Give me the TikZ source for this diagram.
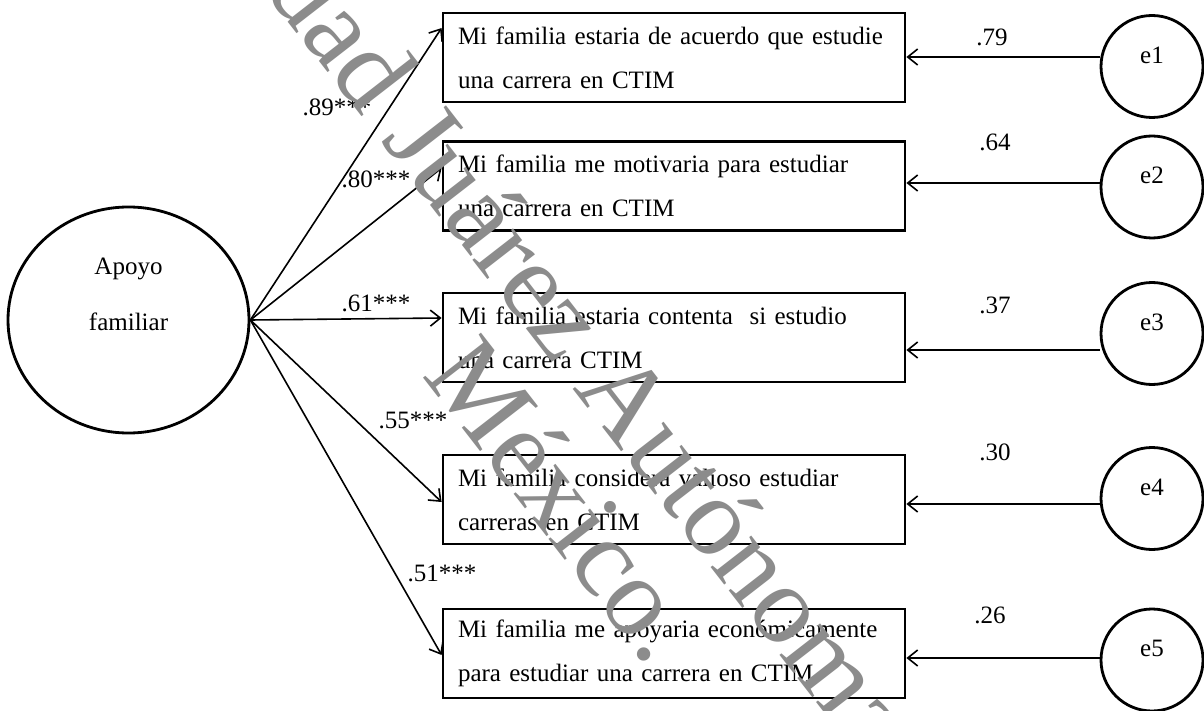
\documentclass[tikz,border=0pt]{standalone}
\usepackage{fontspec}
\setmainfont{Liberation Serif}
\usetikzlibrary{arrows.meta,shapes.geometric}

\begin{document}
\begin{tikzpicture}[x=0.5pt,y=-0.5pt,
  txt/.style={font=\fontsize{12.5}{22}\selectfont},
  item/.style={draw, line width=1.4pt, rectangle, minimum width=231pt,
    minimum height=44.5pt, text width=216pt, inner xsep=7.5pt, align=left, txt},
  latent/.style={draw, line width=1.4pt, ellipse, minimum width=120.5pt,
    minimum height=113pt, inner sep=0pt},
  errc/.style={draw, line width=1.4pt, circle, minimum size=51pt, inner sep=0pt},
  elbl/.style={txt, inner sep=0pt, yshift=5.75pt},
  conn/.style={line width=0.8pt, -{Straight Barb[length=5pt,width=8pt]}},
  coef/.style={txt, inner sep=0pt},
  wmark/.style={rotate=-52.2, anchor=base, inner sep=0pt, text=black!45,
    font=\fontsize{56}{56}\selectfont},
]
% page frame
\fill[white] (0,0) rectangle (1204,711);
\useasboundingbox (0,0) rectangle (1204,711);

% latent factor
\node[latent, label={[inner sep=0pt, yshift=13pt, align=center,
  font=\fontsize{12.5}{28}\selectfont]center:Apoyo\\familiar}] (ap) at (128.5,320) {};

% observed items
\node[item] (b1) at (674,57.5) {Mi familia estaria de acuerdo que estudie\\una carrera en CTIM};
\node[item] (b2) at (674,186) {Mi familia me motivaria para estudiar\\una carrera en CTIM};
\node[item] (b3) at (674,337.5) {Mi familia estaria contenta\ \ si estudio\\una carrera CTIM};
\node[item] (b4) at (674,499.5) {Mi familia considera valioso estudiar\\carreras en CTIM};
\node[item] (b5) at (674,653.5) {Mi familia me apoyaria económicamente\\para estudiar una carrera en CTIM};

% error terms
\node[errc, label={[elbl]center:e1}] (e1) at (1152,66.5) {};
\node[errc, label={[elbl]center:e2}] (e2) at (1152,187) {};
\node[errc, label={[elbl]center:e3}] (e3) at (1152,333.5) {};
\node[errc, label={[elbl]center:e4}] (e4) at (1152,498.5) {};
\node[errc, label={[elbl]center:e5}] (e5) at (1152,660) {};

% loadings
\draw[conn] (ap.east) -- ([yshift=14.75pt]b1.west);
\draw[conn] (ap.east) -- ([yshift=9pt]b2.west);
\draw[conn] (ap.east) -- ([yshift=9.75pt]b3.west);
\draw[conn] (ap.east) -- ([yshift=-1.25pt]b4.west);
\draw[conn] (ap.east) -- ([yshift=-0.75pt]b5.west);

\node[coef] (l1) at (337,107) {.89***};
\node[coef] (l2) at (376,179) {.80***};
\node[coef] (l3) at (376,303) {.61***};
\node[coef] (l4) at (413,420) {.55***};
\node[coef] (l5) at (442,573) {.51***};

% error paths
\coordinate (s1) at ([yshift=4.75pt]e1.west);
\coordinate (s2) at ([yshift=2pt]e2.west);
\coordinate (s3) at ([yshift=-8.25pt]e3.west);
\coordinate (s4) at ([yshift=-2.75pt]e4.west);
\coordinate (s5) at ([yshift=1pt]e5.west);
\draw[conn] (s1) -- (s1 -| b1.east);
\draw[conn] (s2) -- (s2 -| b2.east);
\draw[conn] (s3) -- (s3 -| b3.east);
\draw[conn] (s4) -- (s4 -| b4.east);
\draw[conn] (s5) -- (s5 -| b5.east);

\node[coef] (r1) at (992,37) {.79};
\node[coef] (r2) at (995,142) {.64};
\node[coef] (r3) at (995,305) {.37};
\node[coef] (r4) at (995,452) {.30};
\node[coef] (r5) at (990,615) {.26};

% institutional watermark, two centred lines
\node[wmark] (wm1) at (615,443) {Universidad Juárez Autónoma de Tabasco.};
\node[wmark] (wm2) at (535,522) {México.};
\end{tikzpicture}
\end{document}
